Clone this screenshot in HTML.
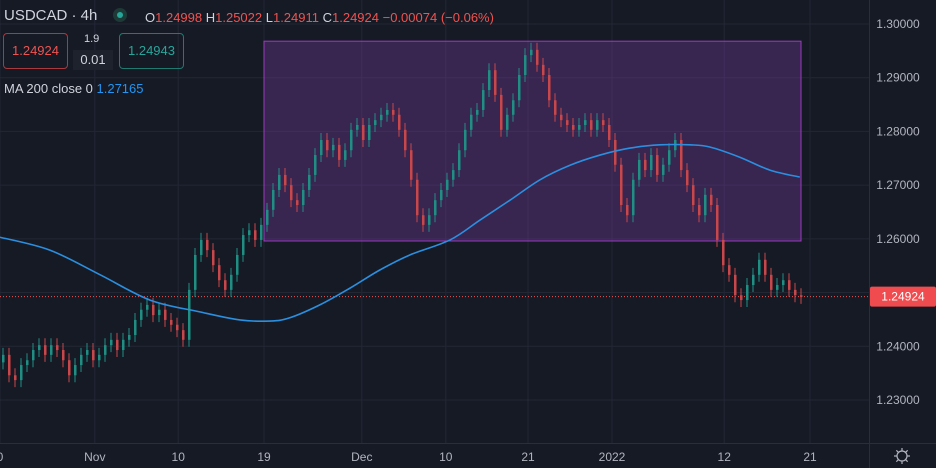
<!DOCTYPE html>
<html><head><meta charset="utf-8"><style>
html,body{margin:0;padding:0;background:#161a25;}
body{width:936px;height:468px;overflow:hidden;position:relative;font-family:"Liberation Sans",sans-serif;}
svg{position:absolute;left:0;top:0;}
.hdr{position:absolute;font-size:13px;color:#d1d4dc;white-space:nowrap;}
.red{color:#ef5350;}
.box{position:absolute;border:1px solid;border-radius:4px;font-size:13px;text-align:center;line-height:34px;height:34px;}
</style></head><body>
<svg id="chart" width="936" height="468"></svg>
<div class="hdr" style="left:4px;top:7px;font-size:15px;">USDCAD · 4h</div>
<div style="position:absolute;left:113px;top:8px;width:14px;height:14px;border-radius:7px;background:#1e3a36;"><div style="position:absolute;left:4px;top:4px;width:6px;height:6px;border-radius:3px;background:#26a69a;"></div></div>
<div class="hdr" style="left:145px;top:10px;">O<span class="red">1.24998</span> H<span class="red">1.25022</span> L<span class="red">1.24911</span> C<span class="red">1.24924</span> <span class="red">−0.00074 (−0.06%)</span></div>
<div class="box" style="left:3px;top:33px;width:63px;border-color:#a8393c;color:#ef5350;">1.24924</div>
<div class="hdr" style="left:84px;top:33px;font-size:11px;">1.9</div>
<div style="position:absolute;left:73px;top:50px;width:40px;height:20px;background:#1e222d;color:#d1d4dc;font-size:13px;text-align:center;line-height:20px;">0.01</div>
<div class="box" style="left:119px;top:33px;width:63px;border-color:#1f7a70;color:#26a69a;">1.24943</div>
<div class="hdr" style="left:4px;top:81px;">MA 200 close 0 <span style="color:#2196f3;">1.27165</span></div>
<script>
const closes=[1.2384,1.2346,1.2337,1.2365,1.2374,1.2393,1.2402,1.2384,1.2402,1.2393,
1.2374,1.2346,1.2365,1.2384,1.2393,1.2374,1.2384,1.2402,1.2412,1.2393,
1.2412,1.2421,1.2449,1.2468,1.2477,1.2458,1.2468,1.2449,1.2440,1.2430,
1.2412,1.2505,1.2570,1.2598,1.2579,1.2551,1.2523,1.2505,1.2533,1.2570,
1.2607,1.2616,1.2598,1.2626,1.2654,1.2691,1.2719,1.2700,1.2672,1.2663,
1.2691,1.2719,1.2756,1.2784,1.2765,1.2775,1.2747,1.2765,1.2803,1.2812,
1.2784,1.2812,1.2821,1.2831,1.2840,1.2831,1.2803,1.2765,1.2710,1.2644,
1.2626,1.2644,1.2672,1.2691,1.2710,1.2728,1.2765,1.2803,1.2831,1.2840,
1.2877,1.2914,1.2868,1.2803,1.2831,1.2858,1.2905,1.2942,1.2952,1.2924,
1.2905,1.2858,1.2831,1.2821,1.2812,1.2803,1.2812,1.2821,1.2803,1.2821,
1.2812,1.2784,1.2738,1.2663,1.2644,1.2710,1.2747,1.2728,1.2756,1.2719,
1.2738,1.2765,1.2784,1.2728,1.2700,1.2663,1.2644,1.2682,1.2663,1.2598,
1.2551,1.2533,1.2495,1.2486,1.2514,1.2533,1.2561,1.2533,1.2505,1.2514,
1.2523,1.2505,1.2495,1.2492];
const firstOpen=1.2370;
const maIdx=[-0.5,7.8,16.2,24.5,32.8,39.5,44.5,47.8,52.8,57.8,62.8,67.8,74.5,79.5,84.5,89.5,94.5,99.5,104.5,109.5,114.5,117.8,122.8,127.8,132.8];
const maVals=[1.2603,1.2579,1.2533,1.2486,1.2464,1.2449,1.2447,1.2453,1.2477,1.2508,1.2542,1.2570,1.2598,1.2635,1.2672,1.2710,1.2737,1.2756,1.2769,1.2775,1.2775,1.2771,1.2752,1.2728,1.2715];
const xTickIdx=[-0.5,15.3,29.2,43.5,59.8,73.8,87.5,101.5,120.2,134.5];
const xTickLabels=["0","Nov","10","19","Dec","10","21","2022","12","21"];
const yTicks=[1.30,1.29,1.28,1.27,1.26,1.25,1.24,1.23];
const rectIdx=[43.5,133];
const rectPrices=[1.2968,1.2596];
const lastPrice=1.24924;

const NS="http://www.w3.org/2000/svg";
const svg=document.getElementById('chart');
const X=i=>3+6*i;
const Y=p=>24+(1.30-p)*5371;
function mk(t,a,parent){const e=document.createElementNS(NS,t);for(const k in a)e.setAttribute(k,a[k]);(parent||svg).appendChild(e);return e;}
yTicks.forEach(p=>{const l=mk('line',{x1:0,x2:869,y1:Y(p),y2:Y(p),stroke:'#232734','stroke-width':1});

});
xTickIdx.forEach(i=>{const l=mk('line',{x1:X(i),x2:X(i),y1:0,y2:443,stroke:'#232734','stroke-width':1});

});
const r=mk('rect',{x:X(rectIdx[0]),y:Y(rectPrices[0]),width:X(rectIdx[1])-X(rectIdx[0]),height:Y(rectPrices[1])-Y(rectPrices[0]),fill:'rgba(126,60,170,0.33)',stroke:'#9c3cc0','stroke-width':1});


const lp=mk('line',{x1:0,x2:869,y1:Y(lastPrice),y2:Y(lastPrice),stroke:'#ef5350','stroke-width':1,'stroke-dasharray':'1 2'});


closes.forEach((c,i)=>{
  const o=i===0?firstOpen:closes[i-1];
  const up=c>=o;const col=up?'#1f8f84':'#c9474a';
  const hi=Math.max(o,c)+0.0013,lo=Math.min(o,c)-0.0013;
  const g=mk('g',{});
  
  
  mk('line',{x1:X(i),x2:X(i),y1:Y(hi),y2:Y(lo),stroke:col,'stroke-width':1},g);
  const top=Y(Math.max(o,c)),h=Math.max(1,Y(Math.min(o,c))-top);
  mk('rect',{x:X(i)-1,y:top,width:2.5,height:h,fill:col},g);
});
// smooth MA (catmull-rom)
const pts=maVals.map((v,k)=>[X(maIdx[k]),Y(v)]);
let d='M'+pts[0][0]+' '+pts[0][1];
for(let k=0;k<pts.length-1;k++){
  const p0=pts[Math.max(0,k-1)],p1=pts[k],p2=pts[k+1],p3=pts[Math.min(pts.length-1,k+2)];
  d+=' C'+(p1[0]+(p2[0]-p0[0])/6)+' '+(p1[1]+(p2[1]-p0[1])/6)+' '+(p2[0]-(p3[0]-p1[0])/6)+' '+(p2[1]-(p3[1]-p1[1])/6)+' '+p2[0]+' '+p2[1];
}
const ma=mk('path',{d:d,fill:'none',stroke:'#2b8fe0','stroke-width':1.6});


const ax=mk('line',{x1:869.5,x2:869.5,y1:0,y2:468,stroke:'#2a2e39'});


const bx=mk('line',{x1:0,x2:936,y1:443.5,y2:443.5,stroke:'#2a2e39'});


yTicks.forEach(p=>{const t=mk('text',{x:898,y:Y(p)+4,fill:'#b2b5be','font-size':12,'text-anchor':'middle','font-family':'Liberation Sans, sans-serif'});
t.textContent=p.toFixed(5);

});
xTickIdx.forEach((i,k)=>{const t=mk('text',{x:X(i),y:461,fill:'#b2b5be','font-size':12,'text-anchor':'middle','font-family':'Liberation Sans, sans-serif'});
t.textContent=xTickLabels[k];

});
const pb=mk('rect',{x:870,y:Y(lastPrice)-10,width:66,height:20,fill:'#f04b4e',rx:2});


const pt=mk('text',{x:903,y:Y(lastPrice)+4,fill:'#fff','font-size':12,'text-anchor':'middle','font-family':'Liberation Sans, sans-serif'});
pt.textContent=lastPrice.toFixed(5);


const gear=mk('g',{});


mk('circle',{cx:902,cy:456,r:5,fill:'none',stroke:'#b2b5be','stroke-width':1.2},gear);
for(let a=0;a<8;a++){const t=a*Math.PI/4;mk('line',{x1:902+5*Math.cos(t),y1:456+5*Math.sin(t),x2:902+8*Math.cos(t),y2:456+8*Math.sin(t),stroke:'#b2b5be','stroke-width':1.2},gear);}
</script>
</body></html>
